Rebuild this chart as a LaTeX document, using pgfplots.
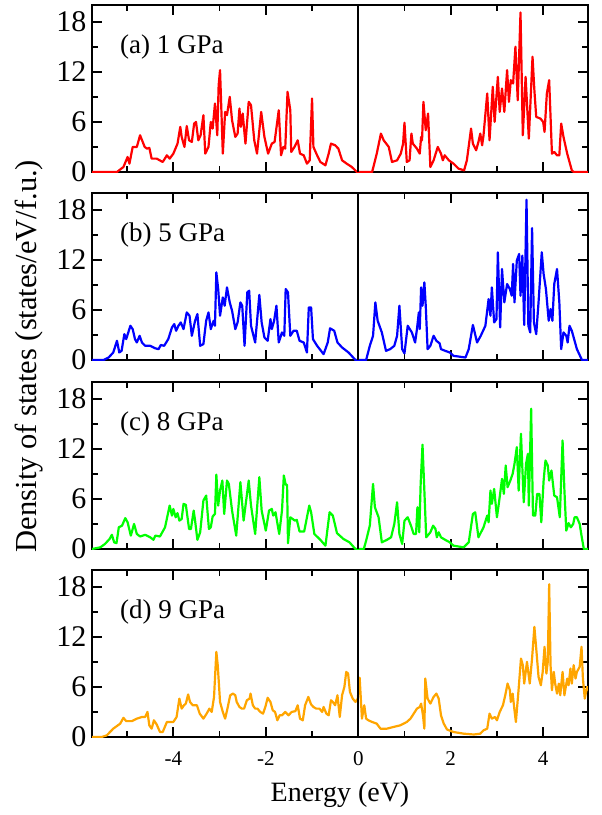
\documentclass[border=0pt]{standalone}
\usepackage{pgfplots}
\pgfplotsset{compat=1.18}
\usepackage{fontspec}
\setmainfont{Liberation Serif}

\definecolor{dosorange}{RGB}{255,165,0}

\pgfplotsset{
  dos/.style={
    width=496pt, height=167pt, scale only axis,
    anchor=north west,
    xmin=-5.76, xmax=4.97, ymin=0, ymax=20,
    xtick={-4,-2,0,2,4}, minor xtick={-5,-3,-1,1,3},
    ytick={0,6,12,18}, minor ytick={3,9,15},
    tick align=inside,
    major tick length=10pt, minor tick length=6pt,
    tick style={black, line width=1.8pt},
    axis line style={line width=2.2pt},
    /pgf/number format/assume math mode=true,
    yticklabel style={font=\fontsize{30}{32}\selectfont, xshift=-2pt},
    xticklabel style={font=\fontsize{21}{23}\selectfont, yshift=-11pt},
    every axis plot/.append style={line width=2.2pt, line join=round},
  },
}
\tikzset{panel/.style={anchor=west, inner sep=0pt, font=\fontsize{27}{29}\selectfont}}

\begin{document}
\begin{tikzpicture}
\useasboundingbox (0,0) rectangle (602pt,-815pt);

% (a) 1 GPa
\begin{axis}[dos, at={(92pt,-5pt)}, xticklabels={}]
\addplot[red] coordinates {
(-5.76,0) (-5.22,0) (-5.08,0.6) (-4.99,1.8) (-4.95,1.0) (-4.88,3.0) (-4.79,3.0) (-4.72,4.4) (-4.62,3.0) (-4.57,2.8) (-4.52,2.9) (-4.47,1.6) (-4.36,1.6) (-4.23,1.2) (-4.14,2.0) (-4.08,1.6) (-4.0,2.2) (-3.91,3.4) (-3.85,5.4) (-3.82,4.2) (-3.76,3.0) (-3.71,5.5) (-3.66,3.8) (-3.6,3.6) (-3.55,5.8) (-3.51,6.0) (-3.46,3.8) (-3.41,4.4) (-3.35,6.8) (-3.31,2.2) (-3.24,3.0) (-3.19,6.0) (-3.15,5.2) (-3.1,8.2) (-3.05,4.4) (-3.02,10.4) (-2.99,12.2) (-2.93,2.2) (-2.88,7.2) (-2.84,6.8) (-2.78,9.0) (-2.73,6.2) (-2.66,4.2) (-2.61,4.6) (-2.57,7.6) (-2.54,5.4) (-2.5,7.0) (-2.44,3.4) (-2.37,8.4) (-2.32,8.0) (-2.25,3.8) (-2.19,2.2) (-2.1,7.2) (-2.03,4.2) (-1.95,2.2) (-1.87,3.4) (-1.81,3.6) (-1.72,7.4) (-1.67,2.0) (-1.62,3.0) (-1.58,2.8) (-1.53,9.6) (-1.47,7.4) (-1.45,2.4) (-1.38,3.0) (-1.31,3.8) (-1.26,2.2) (-1.18,2.0) (-1.11,1.0) (-1.05,1.4) (-1.0,8.8) (-0.97,3.0) (-0.89,2.0) (-0.82,1.2) (-0.71,0.8) (-0.64,2.2) (-0.59,3.4) (-0.5,3.2) (-0.43,2.8) (-0.35,1.4) (-0.25,1.0) (-0.14,0.6) (-0.03,0)
(0.3,0) (0.4,2.2) (0.49,4.6) (0.55,3.8) (0.66,3.0) (0.73,1.2) (0.84,1.4) (0.92,2.2) (0.97,3.4) (1.0,5.9) (1.05,1.2) (1.11,1.4) (1.15,4.6) (1.18,3.4) (1.27,2.8) (1.33,2.2) (1.36,4.2) (1.38,3.8) (1.41,8.4) (1.46,5.0) (1.51,7.0) (1.56,0.6) (1.63,1.4) (1.72,3.0) (1.79,2.2) (1.83,1.4) (1.87,2.0) (1.96,1.4) (2.06,1.0) (2.17,0.4) (2.29,0.2) (2.35,1.4) (2.44,5.2) (2.48,3.4) (2.55,2.6) (2.6,3.6) (2.64,4.6) (2.68,3.2) (2.71,4.4) (2.79,9.4) (2.84,3.8) (2.91,10.2) (2.95,6.0) (3.02,11.4) (3.06,7.2) (3.11,10.0) (3.16,7.2) (3.22,12.2) (3.26,8.4) (3.3,11.0) (3.35,10.6) (3.4,15.0) (3.45,8.6) (3.51,19.1) (3.56,4.4) (3.62,11.4) (3.69,4.0) (3.77,13.8) (3.81,9.8) (3.85,6.6) (3.94,6.4) (4.0,6.0) (4.03,4.8) (4.08,9.4) (4.13,11.0) (4.19,2.2) (4.24,2.4) (4.3,2.0) (4.35,2.0) (4.39,5.8) (4.44,4.2) (4.52,2.2) (4.62,0.2) (4.66,0) (5,0)
};
\addplot[black, line width=1.8pt] coordinates {(0,0) (0,20)};
\node[panel] at (rel axis cs:0,1) [xshift=28pt, yshift=-42pt] {(a) 1 GPa};
\end{axis}

% (b) 5 GPa
\begin{axis}[dos, at={(92pt,-193pt)}, xticklabels={}]
\addplot[blue] coordinates {
(-5.76,0) (-5.51,0) (-5.4,0.3) (-5.3,0.9) (-5.22,2.3) (-5.17,0.9) (-5.12,1.1) (-5.06,3.1) (-5.02,2.5) (-4.93,4.1) (-4.88,3.7) (-4.83,2.5) (-4.79,2.1) (-4.73,2.9) (-4.68,2.1) (-4.61,1.7) (-4.5,1.7) (-4.39,1.4) (-4.32,1.3) (-4.27,1.8) (-4.2,1.7) (-4.11,2.5) (-4.03,3.9) (-3.98,4.3) (-3.94,3.5) (-3.89,4.1) (-3.84,4.5) (-3.78,3.7) (-3.71,5.7) (-3.65,5.3) (-3.6,2.9) (-3.53,4.7) (-3.48,5.5) (-3.42,1.7) (-3.35,1.9) (-3.29,4.7) (-3.24,5.7) (-3.19,3.7) (-3.13,4.7) (-3.1,4.1) (-3.07,10.5) (-3.03,8.5) (-2.99,5.3) (-2.93,7.5) (-2.89,6.5) (-2.84,8.7) (-2.78,6.9) (-2.73,5.9) (-2.66,3.7) (-2.61,4.5) (-2.55,6.9) (-2.51,6.5) (-2.46,1.7) (-2.4,8.1) (-2.36,8.3) (-2.32,4.1) (-2.23,2.1) (-2.14,7.8) (-2.09,4.5) (-2.03,2.7) (-1.96,2.3) (-1.9,4.9) (-1.87,3.7) (-1.82,4.7) (-1.77,6.5) (-1.72,2.1) (-1.65,3.3) (-1.6,2.9) (-1.57,8.5) (-1.52,8.1) (-1.47,2.9) (-1.4,3.5) (-1.33,3.5) (-1.27,2.3) (-1.18,2.1) (-1.11,0.9) (-1.07,6.3) (-1.02,6.3) (-0.98,2.5) (-0.89,1.7) (-0.75,0.7) (-0.66,2.1) (-0.61,3.8) (-0.52,3.5) (-0.45,2.1) (-0.35,1.5) (-0.21,0.9) (-0.06,0)
(0.17,0) (0.25,1.7) (0.32,2.9) (0.37,6.9) (0.42,4.7) (0.51,3.3) (0.6,1.1) (0.69,1.3) (0.78,1.7) (0.84,2.9) (0.89,6.5) (0.95,1.3) (1.0,0.8) (1.07,4.1) (1.16,3.3) (1.23,2.1) (1.27,3.7) (1.31,5.7) (1.33,3.7) (1.36,8.7) (1.39,6.5) (1.43,9.3) (1.46,6.5) (1.5,1.3) (1.56,1.7) (1.63,2.9) (1.69,2.3) (1.76,2.0) (1.79,1.3) (1.88,1.1) (1.98,0.9) (2.06,0.5) (2.32,0.3) (2.39,1.3) (2.48,4.2) (2.57,2.1) (2.65,2.9) (2.75,4.1) (2.82,7.3) (2.86,5.3) (2.89,8.7) (2.94,4.5) (2.99,4.9) (3.02,12.9) (3.07,3.9) (3.11,10.9) (3.16,6.9) (3.22,9.1) (3.28,8.5) (3.32,7.7) (3.35,11.5) (3.38,6.9) (3.43,11.9) (3.48,12.7) (3.51,7.7) (3.55,12.5) (3.59,4.2) (3.64,19.2) (3.68,4.1) (3.72,3.3) (3.76,15.8) (3.8,4.5) (3.85,3.1) (3.9,6.9) (3.97,12.9) (4.01,10.3) (4.06,8.5) (4.12,4.7) (4.16,6.1) (4.2,4.7) (4.24,9.1) (4.3,10.9) (4.35,6.9) (4.39,1.3) (4.44,3.3) (4.5,2.9) (4.53,2.1) (4.57,4.1) (4.62,3.5) (4.73,1.3) (4.84,0) (5,0)
};
\addplot[black, line width=1.8pt] coordinates {(0,0) (0,20)};
\node[panel] at (rel axis cs:0,1) [xshift=28pt, yshift=-42pt] {(b) 5 GPa};
\end{axis}

% (c) 8 GPa
\begin{axis}[dos, at={(92pt,-382pt)}, xticklabels={}]
\addplot[green] coordinates {
(-5.76,0) (-5.58,0.2) (-5.48,0.6) (-5.38,1.2) (-5.33,1.7) (-5.28,0.8) (-5.23,0.7) (-5.18,2.6) (-5.11,2.8) (-5.04,3.7) (-4.99,3.2) (-4.92,1.6) (-4.85,3.0) (-4.79,1.8) (-4.72,1.5) (-4.61,1.7) (-4.5,1.4) (-4.43,1.1) (-4.39,1.6) (-4.29,1.5) (-4.18,2.6) (-4.08,5.2) (-4.03,4.0) (-4.0,4.8) (-3.95,3.8) (-3.91,4.3) (-3.87,3.4) (-3.82,3.6) (-3.78,5.4) (-3.73,5.3) (-3.66,2.4) (-3.62,2.4) (-3.56,4.6) (-3.53,3.4) (-3.48,1.1) (-3.42,2.0) (-3.35,5.8) (-3.29,6.4) (-3.23,2.4) (-3.19,2.6) (-3.15,3.9) (-3.1,4.2) (-3.07,8.9) (-3.03,5.2) (-2.99,7.0) (-2.94,8.2) (-2.9,4.2) (-2.84,8.2) (-2.8,7.8) (-2.73,4.6) (-2.64,1.6) (-2.55,8.0) (-2.48,3.4) (-2.37,8.2) (-2.32,5.2) (-2.23,1.8) (-2.14,8.6) (-2.09,4.6) (-2.0,2.2) (-1.93,4.6) (-1.87,4.8) (-1.84,4.0) (-1.79,4.4) (-1.71,1.8) (-1.65,4.6) (-1.61,8.8) (-1.57,7.7) (-1.54,7.7) (-1.52,0.7) (-1.47,3.8) (-1.37,3.4) (-1.33,3.5) (-1.27,2.1) (-1.17,2.1) (-1.06,5.2) (-1.02,4.4) (-0.95,1.8) (-0.82,1.1) (-0.71,0.4) (-0.62,4.4) (-0.55,4.0) (-0.46,1.9) (-0.32,1.2) (-0.19,0.8) (-0.06,0)
(0.12,0) (0.17,1.0) (0.25,2.8) (0.32,7.8) (0.36,5.0) (0.44,3.8) (0.51,0.8) (0.62,1.1) (0.71,1.4) (0.78,3.0) (0.84,5.6) (0.89,1.8) (0.95,0.6) (1.0,3.4) (1.07,3.8) (1.14,2.8) (1.2,1.8) (1.25,1.8) (1.28,5.0) (1.32,2.0) (1.35,7.8) (1.39,12.5) (1.43,7.0) (1.47,1.4) (1.56,2.0) (1.62,2.8) (1.67,2.4) (1.7,1.4) (1.74,2.0) (1.79,1.4) (1.88,1.1) (1.98,0.8) (2.06,0.4) (2.28,0.2) (2.39,0.8) (2.48,4.2) (2.53,4.4) (2.6,1.4) (2.71,2.6) (2.79,4.0) (2.82,3.2) (2.86,7.0) (2.89,5.4) (2.94,7.2) (3.0,3.8) (3.05,5.8) (3.11,8.4) (3.15,6.6) (3.19,10.0) (3.23,7.4) (3.29,8.2) (3.34,9.0) (3.38,10.2) (3.43,12.2) (3.47,7.0) (3.52,13.8) (3.58,5.6) (3.63,10.2) (3.67,11.4) (3.69,5.2) (3.74,16.8) (3.78,4.0) (3.83,4.0) (3.87,6.6) (3.92,6.6) (3.96,3.2) (4.01,8.2) (4.05,10.6) (4.1,10.0) (4.13,8.2) (4.18,9.4) (4.24,6.4) (4.3,6.2) (4.36,3.8) (4.42,13.0) (4.46,7.0) (4.5,2.2) (4.55,3.1) (4.6,2.6) (4.65,3.0) (4.68,3.8) (4.73,3.8) (4.79,3.0) (4.83,1.6) (4.88,0) (5,0)
};
\addplot[black, line width=1.8pt] coordinates {(0,0) (0,20)};
\node[panel] at (rel axis cs:0,1) [xshift=28pt, yshift=-42pt] {(c) 8 GPa};
\end{axis}

% (d) 9 GPa
\begin{axis}[dos, at={(92pt,-570pt)}]
\addplot[dosorange] coordinates {
(-5.76,0) (-5.55,0) (-5.44,0.2) (-5.3,1.0) (-5.15,1.6) (-5.08,2.3) (-5.02,1.9) (-4.9,1.9) (-4.79,2.2) (-4.68,2.4) (-4.61,2.4) (-4.56,3.0) (-4.52,1.4) (-4.47,1.0) (-4.42,2.0) (-4.36,1.5) (-4.29,0.6) (-4.23,0.6) (-4.14,1.8) (-4.07,1.8) (-4.0,1.8) (-3.93,2.4) (-3.87,4.6) (-3.82,3.4) (-3.77,3.8) (-3.73,4.0) (-3.68,5.1) (-3.64,4.2) (-3.58,3.8) (-3.49,3.8) (-3.43,2.8) (-3.35,2.2) (-3.28,2.8) (-3.22,3.4) (-3.17,3.0) (-3.12,4.8) (-3.07,10.2) (-3.04,8.6) (-2.99,4.2) (-2.93,3.0) (-2.88,2.2) (-2.83,3.4) (-2.77,5.0) (-2.71,5.2) (-2.66,5.0) (-2.63,4.2) (-2.57,3.6) (-2.52,3.4) (-2.47,3.4) (-2.41,4.4) (-2.35,4.6) (-2.33,5.2) (-2.28,3.8) (-2.23,3.4) (-2.18,3.4) (-2.12,3.0) (-2.06,2.8) (-2.01,3.6) (-1.96,4.7) (-1.9,4.2) (-1.85,3.2) (-1.8,3.0) (-1.75,2.0) (-1.7,2.6) (-1.65,2.6) (-1.58,3.0) (-1.51,2.6) (-1.44,3.0) (-1.36,3.1) (-1.31,3.8) (-1.26,2.2) (-1.2,2.0) (-1.15,3.8) (-1.08,4.8) (-1.02,3.9) (-0.97,3.6) (-0.91,3.4) (-0.84,3.4) (-0.78,3.0) (-0.75,3.6) (-0.69,2.8) (-0.64,2.6) (-0.59,4.4) (-0.55,4.2) (-0.5,3.8) (-0.45,5.0) (-0.4,2.4) (-0.35,5.0) (-0.3,6.0) (-0.26,7.8) (-0.22,7.6) (-0.18,5.4) (-0.12,4.6) (-0.06,4.2) (-0.01,4.6) (0.03,7.1) (0.08,2.2) (0.13,3.8) (0.17,2.2) (0.22,2.0) (0.3,1.8) (0.4,1.6) (0.48,1.0) (0.62,1.0) (0.76,1.2) (0.91,1.4) (1.05,1.8) (1.13,2.2) (1.2,2.8) (1.27,3.4) (1.33,3.6) (1.36,4.0) (1.4,2.6) (1.43,1.0) (1.45,7.0) (1.5,4.6) (1.56,4.0) (1.63,4.8) (1.69,5.2) (1.74,4.6) (1.79,2.6) (1.85,1.6) (1.92,0.9) (2.06,0.6) (2.28,0.4) (2.5,0.3) (2.64,0.4) (2.71,0.8) (2.79,1.0) (2.84,2.8) (2.89,2.2) (2.96,2.4) (3.0,2.0) (3.06,3.0) (3.13,3.8) (3.18,5.0) (3.23,6.4) (3.28,5.6) (3.3,4.2) (3.34,5.2) (3.38,3.2) (3.41,1.8) (3.47,5.8) (3.52,9.4) (3.56,8.6) (3.59,6.4) (3.65,9.0) (3.71,6.4) (3.76,9.4) (3.81,13.2) (3.85,10.6) (3.9,7.2) (3.95,6.2) (3.99,7.8) (4.03,10.8) (4.07,7.6) (4.1,9.0) (4.13,18.3) (4.16,8.6) (4.19,5.6) (4.23,7.8) (4.26,6.4) (4.3,5.2) (4.34,6.4) (4.37,5.0) (4.42,7.8) (4.46,5.0) (4.52,7.0) (4.55,6.2) (4.59,8.2) (4.62,6.4) (4.66,8.6) (4.7,7.0) (4.73,7.8) (4.79,8.4) (4.83,10.8) (4.86,7.0) (4.9,4.6) (4.95,6.0) (5.0,5.5)
};
\addplot[black, line width=1.8pt] coordinates {(0,0) (0,20)};
\node[panel] at (rel axis cs:0,1) [xshift=28pt, yshift=-42pt] {(d) 9 GPa};
\end{axis}

\node[rotate=90, font=\fontsize{30.5}{32}\selectfont] at (29pt,-356pt) {Density of states (states/eV/f.u.)};
\node[font=\fontsize{28}{30}\selectfont] at (340pt,-795pt) {Energy (eV)};
\end{tikzpicture}
\end{document}
